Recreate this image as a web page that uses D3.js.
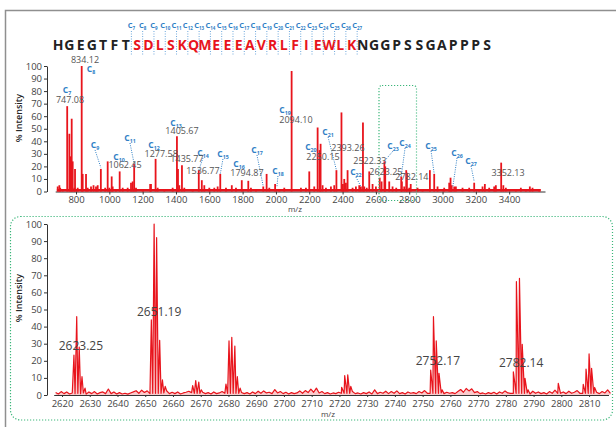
<!DOCTYPE html>
<html>
<head>
<meta charset="utf-8">
<script src="https://cdn.jsdelivr.net/npm/d3@7"></script>
<style>
body { margin: 0; background: #fff; }
svg { display: block; font-family: "Open Sans", sans-serif; }
</style>
</head>
<body>
<svg id="chart" width="616" height="427"></svg>
<script>
// peptide and the c-ion coverage
const sequence = "HGEGTFTSDLSKQMEEEAVRLFIEWLKNGGPSSGAPPPS".split("");
const coveredFrom = 7, coveredTo = 26;
const cIons = d3.range(7, 28);

// full range spectrum, main peaks
const topMz  = [690, 700, 747, 760, 768, 774, 780, 794, 834, 840, 860, 949, 990, 1014, 1062, 1140, 1149,
  1250, 1277.6, 1405.7, 1412, 1435.8, 1536.8, 1555, 1665.8, 1794.9, 1834, 1923.9, 1944, 1995, 2094.1,
  2200, 2250.2, 2262, 2268, 2363, 2393.3, 2402, 2430, 2510, 2522.3, 2560, 2580, 2623, 2634, 2651, 2656,
  2680, 2722, 2752, 2756, 2782, 2786, 2809, 2924, 2950, 3048, 3055, 3080, 3190, 3254, 3352, 3365, 3524];
const topInt = [4, 5, 68, 46, 28, 58, 24, 18, 100, 14, 14, 18, 24, 12, 16, 8, 22,
  6, 26, 44, 18, 21, 17, 9, 14, 9, 8.5, 4, 14, 6, 96,
  16, 51, 33, 38, 17, 63, 6, 17, 4, 55, 16, 6, 11, 8, 24, 20,
  8, 3, 12, 8, 17, 15, 6, 17, 14, 11, 5, 4, 7, 6, 23, 5, 4];
// small peaks along the baseline
const minorMz  = [705, 720, 790, 810, 870, 890, 905, 920, 930, 975, 1000, 1020, 1040, 1080, 1110, 1130,
  1160, 1200, 1245, 1290, 1330, 1380, 1420, 1450, 1500, 1570, 1600, 1630, 1650, 1700, 1735, 1760, 1850,
  1880, 1960, 2020, 2050, 2150, 2180, 2230, 2280, 2300, 2330, 2350, 2410, 2420, 2460, 2480, 2500, 2530,
  2545, 2600, 2700, 2770, 2800, 2850, 2880, 2970, 3010, 3040, 3070, 3120, 3160, 3220, 3240, 3280, 3310,
  3320, 3380, 3440, 3470, 3500, 3540, 3580];
const minorInt = [3, 2, 3, 3, 3, 4, 5, 4, 5, 3, 3, 4, 2, 3, 3, 7,
  3, 2, 6, 3, 2, 3, 5, 3, 2, 5, 3, 3, 4, 3, 5, 3, 3,
  2, 3, 2, 3, 3, 3, 4, 5, 3, 4, 5, 10, 7, 3, 4, 5, 4,
  3, 4, 4, 4, 3, 3, 2, 4, 3, 7, 4, 3, 3, 2, 4, 3, 4,
  5, 3, 2, 3, 2, 3, 2];

// m/z annotations of the full spectrum (anchor in data units)
const topMassText = ["834.12", "747.08", "1062.45", "1277.58", "1405.67", "1435.77", "1536.77", "1794.87",
  "2094.10", "2250.15", "2393.26", "2522.33", "2623.25", "2782.14", "3352.13"];
const topMassMz = [854, 764, 1094, 1311, 1436, 1466, 1562, 1826, 2120, 2282, 2432, 2564, 2660, 2816, 3393];
const topMassI  = [102, 70.5, 18.7, 27.5, 45.8, 23.5, 14.3, 12.4, 54.6, 25.1, 32.3, 21.9, 13.5, 9.2, 12.4];

// c-ion annotations: label anchor and, where drawn, the peak the dotted leader points to
const ionLabelMz = [746, 890, 914, 1058, 1124, 1268, 1400, 1562, 1682, 1778, 1886, 2012, 2054, 2210,
  2313, 2480, 2703, 2775, 2931, 3087, 3171];
const ionLabelI  = [80.9, 97.6, 37.1, 27.5, 42.6, 37.1, 54.6, 30.7, 29.9, 21.9, 33.1, 16.3, 64.9, 35.5,
  47.4, 15.5, 36.3, 38.6, 36.3, 30.7, 24.3];
const ionPeakMz = [null, null, 949, null, 1149, null, null, 1536.8, 1665.8, null, 1923.9, 2006, null, null,
  2363, 2510, 2650, 2752, 2950, 3062, 3190];
const ionPeakI  = [null, null, 19, null, 22, null, null, 17, 14, null, 4, 4, null, null,
  17, 4, 24, 12, 14, 4, 8];

// zoomed spectrum 2617-2817
const zoomMz  = [2624.3, 2625.3, 2626.2, 2627.2, 2628.3,
  2652.2, 2653.2, 2654.1, 2655.2, 2656.2, 2657.2,
  2667.1, 2668.2, 2669.3, 2670.2,
  2679.1, 2680.2, 2681.2, 2682.3, 2683.2, 2684.2,
  2720.8, 2721.9, 2723.0, 2724.1,
  2752.9, 2753.9, 2754.9, 2755.9, 2757.0,
  2782.7, 2783.8, 2784.9, 2785.9, 2786.9, 2788.0,
  2798.9,
  2807.9, 2808.9, 2810.0, 2810.9, 2812.0];
const zoomInt = [23.4, 45.8, 28, 10.7, 4,
  43.9, 100, 92, 32, 8.8, 5,
  5.5, 8.4, 7.6, 3,
  6.4, 31.6, 33.7, 28.6, 10.7, 4,
  4.5, 11.3, 11.8, 5,
  14.6, 45.8, 31.6, 12.7, 3,
  13.6, 66.3, 68.2, 29.6, 9.7, 3,
  6.8,
  6.2, 15.2, 24, 15.6, 4.4];
// baseline of the zoomed spectrum, one reading per m/z unit from 2617
const zoomNoiseStart = 2617;
const zoomNoise = [
  1.5, 0.6, 2.0, 0.8, 1.8, 0.6, 1.2, 0.8, 1.0, 0.8,
  1.2, 0.5, 1.8, 0.8, 2.0, 0.6, 1.4, 1.8, 0.8, 3.5,
  0.8, 1.8, 0.6, 1.4, 0.6, 1.0, 0.5, 1.2, 1.8, 2.5,
  1.0, 2.8, 1.5, 2.4, 0.8, 1.0, 1.0, 1.0, 1.0, 1.2,
  2.5, 0.8, 1.6, 0.8, 1.8, 0.6, 1.2, 1.6, 2.2, 1.4,
  1.0, 1.0, 1.0, 1.6, 0.8, 1.4, 0.6, 1.8, 0.8, 1.2,
  2.0, 1.0, 1.0, 1.0, 1.0, 1.0, 1.0, 1.5, 0.8, 1.4,
  0.6, 1.8, 0.8, 2.2, 1.0, 2.4, 1.2, 1.6, 0.8, 3.2,
  1.2, 2.0, 0.8, 1.6, 0.6, 1.4, 0.8, 1.2, 2.4, 1.0,
  2.6, 1.4, 3.4, 1.6, 4.0, 1.2, 2.0, 0.8, 1.4, 0.6,
  1.2, 0.8, 1.6, 1.0, 1.0, 1.0, 1.0, 2.0, 0.8, 1.2,
  0.6, 1.4, 0.8, 1.8, 0.6, 3.0, 0.8, 1.6, 1.0, 2.2,
  0.8, 2.0, 1.0, 2.4, 0.8, 1.4, 0.6, 1.8, 1.0, 1.4,
  0.8, 2.0, 1.2, 2.6, 1.0, 1.0, 1.0, 1.0, 1.0, 1.2,
  0.8, 1.6, 1.0, 1.4, 0.8, 2.0, 3.2, 1.6, 3.8, 2.4,
  3.6, 1.4, 2.0, 0.8, 1.2, 0.6, 1.4, 0.8, 1.6, 0.6,
  1.8, 1.0, 2.4, 1.2, 1.0, 1.0, 1.0, 1.0, 1.0, 1.0,
  1.2, 0.6, 2.2, 1.0, 1.8, 0.8, 1.4, 0.6, 2.0, 1.0,
  2.8, 1.0, 1.0, 1.8, 0.8, 2.2, 1.0, 1.6, 2.6, 1.0,
  1.0, 1.0, 1.0, 1.0, 1.0, 1.6, 0.8, 2.0, 1.2, 3.0,
  1.0];
const zoomMassText = ["2623.25", "2651.19", "2752.17", "2782.14"];
const zoomMassMz = [2626.8, 2655, 2755.5, 2785.5];
const zoomMassI  = [26.3, 46.2, 17.5, 16.4];

const yTicks = d3.range(0, 101, 10);
const topXTicks = d3.range(800, 3401, 200);
const zoomXTicks = d3.range(2620, 2811, 10);

const red = "#e8141c", blue = "#2f80c6", gray = "#555", green = "#3bb67a", axisCol = "#333";
const svg = d3.select("#chart");
const fmt = d3.format("d");

// outer frame
svg.append("path")
    .attr("d", "M5.5,427V10.5H616")
    .attr("fill", "none").attr("stroke", "#8f8f8f").attr("stroke-width", 1.5);

// ---- sequence header ----
const seqX = d3.scaleLinear().domain([0, sequence.length - 1]).range([58, 487]);
svg.append("g").selectAll("text")
    .data(sequence)
    .join("text")
    .attr("x", (d, i) => seqX(i))
    .attr("y", 50)
    .attr("text-anchor", "middle")
    .attr("font-size", 14)
    .attr("font-weight", 700)
    .attr("fill", (d, i) => i >= coveredFrom && i <= coveredTo ? red : "#222")
    .text(d => d);

const seqMarks = svg.append("g").selectAll("g")
    .data(cIons)
    .join("g")
    .attr("transform", n => `translate(${(seqX(n - 1) + seqX(n)) / 2},0)`);
seqMarks.append("line")
    .attr("y1", 31).attr("y2", 56)
    .attr("stroke", "#6ea8dc").attr("stroke-width", 1)
    .attr("stroke-dasharray", "1,1.5");
seqMarks.append("text")
    .attr("y", 28)
    .attr("text-anchor", "middle")
    .attr("fill", blue)
    .attr("font-weight", 700)
    .call(t => {
        t.append("tspan").attr("font-size", 7.5).text("C");
        t.append("tspan").attr("font-size", 4.5).attr("dy", 1.5).text(n => n);
    });

function ionLabel(sel, size) {
    sel.append("tspan").attr("font-size", size).text("C");
    sel.append("tspan").attr("font-size", size * 0.62).attr("dy", size * 0.25).text(n => n);
}

function styleAxis(g, size) {
    g.select(".domain").attr("stroke", axisCol);
    g.selectAll(".tick line").attr("stroke", axisCol);
    g.selectAll(".tick text").attr("fill", "#444").attr("font-size", size)
        .attr("font-family", "'Open Sans', sans-serif");
}

// ---- full range spectrum ----
const xTop = d3.scaleLinear().domain([675, 3615]).range([55.2, 545]);
const yTop = d3.scaleLinear().domain([0, 100]).range([191.5, 66]);

svg.append("g")
    .attr("transform", "translate(47,0)")
    .call(d3.axisLeft(yTop).tickValues(yTicks).tickFormat(fmt).tickSize(3).tickSizeOuter(0).tickPadding(2))
    .call(g => styleAxis(g, 9.5));
svg.append("g")
    .attr("transform", `translate(0,${yTop(0)})`)
    .call(d3.axisBottom(xTop).tickValues(topXTicks).tickFormat(fmt).tickSize(3).tickSizeOuter(0).tickPadding(2))
    .call(g => styleAxis(g, 9.5));

svg.append("text")
    .attr("transform", "translate(22,118) rotate(-90)")
    .attr("text-anchor", "middle")
    .attr("font-size", 9).attr("font-weight", 600).attr("fill", "#222")
    .text("% Intensity");
svg.append("text")
    .attr("x", 295).attr("y", 212)
    .attr("text-anchor", "middle")
    .attr("font-size", 8).attr("fill", "#444")
    .text("m/z");

// baseline band
svg.append("line")
    .attr("x1", xTop(685)).attr("x2", xTop(3590))
    .attr("y1", yTop(1)).attr("y2", yTop(1))
    .attr("stroke", red).attr("stroke-width", 2.5);

const sticks = minorMz.map((m, i) => ({ m, v: minorInt[i] }))
    .concat(topMz.map((m, i) => ({ m, v: topInt[i] })));
svg.append("g").selectAll("line")
    .data(sticks)
    .join("line")
    .attr("x1", d => xTop(d.m)).attr("x2", d => xTop(d.m))
    .attr("y1", yTop(0)).attr("y2", d => yTop(d.v))
    .attr("stroke", red).attr("stroke-width", 1.8);

// green zoom window
svg.append("rect")
    .attr("x", 379).attr("y", 85.5).attr("width", 37.5).attr("height", 115)
    .attr("rx", 3)
    .attr("fill", "none").attr("stroke", green).attr("stroke-width", 1.2)
    .attr("stroke-dasharray", "1.2,1.8");

// leaders and c labels
const ions = cIons.map((n, i) => ({
    n, lm: ionLabelMz[i], li: ionLabelI[i], pm: ionPeakMz[i], pi: ionPeakI[i]
}));
svg.append("g").selectAll("line")
    .data(ions.filter(d => d.pm !== null))
    .join("line")
    .attr("x1", d => xTop(d.lm)).attr("y1", d => yTop(d.li) + 5)
    .attr("x2", d => xTop(d.pm)).attr("y2", d => yTop(d.pi))
    .attr("stroke", blue).attr("stroke-width", 1)
    .attr("stroke-dasharray", "1,1.3");
svg.append("g").selectAll("text")
    .data(ions)
    .join("text")
    .attr("x", d => xTop(d.lm))
    .attr("y", d => yTop(d.li) + 3)
    .attr("text-anchor", "middle")
    .attr("fill", blue).attr("font-weight", 700)
    .datum(d => d.n)
    .call(t => ionLabel(t, 8.5));

svg.append("g").selectAll("text")
    .data(topMassText)
    .join("text")
    .attr("x", (d, i) => xTop(topMassMz[i]))
    .attr("y", (d, i) => yTop(topMassI[i]))
    .attr("text-anchor", "middle")
    .attr("font-size", 9).attr("fill", gray)
    .text(d => d);

// ---- zoomed spectrum ----
svg.append("rect")
    .attr("x", 10.5).attr("y", 216.5).attr("width", 602).attr("height", 203.5)
    .attr("rx", 10)
    .attr("fill", "none").attr("stroke", green).attr("stroke-width", 1.2)
    .attr("stroke-dasharray", "1.2,1.8");

const xBot = d3.scaleLinear().domain([2617, 2817]).range([53.7, 608.5]);
const yBot = d3.scaleLinear().domain([0, 100]).range([395, 224]);

svg.append("g")
    .attr("transform", "translate(47,0)")
    .call(d3.axisLeft(yBot).tickValues(yTicks).tickFormat(fmt).tickSize(3).tickSizeOuter(0).tickPadding(2))
    .call(g => styleAxis(g, 9.5));

const pts = zoomNoise.map((v, i) => ({ m: zoomNoiseStart + i + 0.7, v }))
    .concat(zoomMz.map((m, i) => ({ m, v: zoomInt[i] })))
    .sort((a, b) => a.m - b.m);
svg.append("path")
    .datum(pts)
    .attr("fill", "rgba(232,20,28,0.22)")
    .attr("d", d3.area().x(d => xBot(d.m)).y0(yBot(0)).y1(d => yBot(d.v)));
svg.append("path")
    .datum(pts)
    .attr("fill", "none").attr("stroke", red).attr("stroke-width", 1.2)
    .attr("stroke-linejoin", "round")
    .attr("d", d3.line().x(d => xBot(d.m)).y(d => yBot(d.v)));

svg.append("g")
    .attr("transform", `translate(0,${yBot(0)})`)
    .call(d3.axisBottom(xBot).tickValues(zoomXTicks).tickFormat(fmt).tickSize(2).tickSizeOuter(0).tickPadding(3))
    .call(g => styleAxis(g, 9.5));

svg.append("text")
    .attr("transform", "translate(22,298) rotate(-90)")
    .attr("text-anchor", "middle")
    .attr("font-size", 9).attr("font-weight", 600).attr("fill", "#222")
    .text("% Intensity");
svg.append("text")
    .attr("x", 328).attr("y", 417)
    .attr("text-anchor", "middle")
    .attr("font-size", 8).attr("fill", "#444")
    .text("m/z");

svg.append("g").selectAll("text")
    .data(zoomMassText)
    .join("text")
    .attr("x", (d, i) => xBot(zoomMassMz[i]))
    .attr("y", (d, i) => yBot(zoomMassI[i]))
    .attr("text-anchor", "middle")
    .attr("font-size", 12).attr("fill", "#444")
    .text(d => d);
</script>
</body>
</html>
